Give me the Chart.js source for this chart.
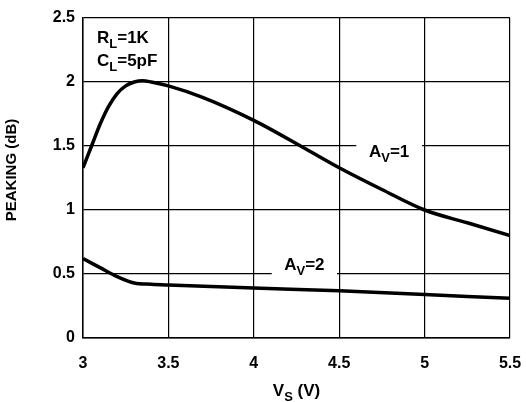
<!DOCTYPE html>
<html>
<head>
<meta charset="utf-8">
<script src="https://cdn.jsdelivr.net/npm/chart.js@4/dist/chart.umd.min.js"></script>
<style>
  body { margin: 0; background: #fff; }
  canvas { display: block; }
</style>
</head>
<body>
<canvas id="chart-peaking" width="526" height="402"></canvas>
<script>
// data
const vsAv1 = [3.0, 3.05, 3.1, 3.15, 3.2, 3.25, 3.3, 3.35, 3.4, 3.5, 3.7, 4.0, 4.3, 4.5, 4.75, 5.0, 5.25, 5.5];
const peakAv1 = [1.33, 1.50, 1.67, 1.81, 1.91, 1.97, 2.0, 2.01, 2.0, 1.97, 1.88, 1.70, 1.48, 1.33, 1.16, 1.0, 0.90, 0.80];
const vsAv2 = [3.0, 3.1, 3.2, 3.3, 3.4, 3.5, 4.0, 4.5, 5.0, 5.5];
const peakAv2 = [0.62, 0.55, 0.48, 0.43, 0.42, 0.414, 0.39, 0.37, 0.34, 0.31];
const xTicks = [3, 3.5, 4, 4.5, 5, 5.5];
const yTicks = [0, 0.5, 1, 1.5, 2, 2.5];
const xTickLabels = ['3', '3.5', '4', '4.5', '5', '5.5'];
const yTickLabels = ['0', '0.5', '1', '1.5', '2', '2.5'];

const FONT = '"Liberation Sans", Arial, sans-serif';

function toPoints(xs, ys) {
    return xs.map((x, i) => ({ x: x, y: ys[i] }));
}

// draw text made of [text, isSub] parts
function drawParts(ctx, parts, x, y, size, align) {
    const subSize = Math.round(size * 0.78);
    let total = 0;
    parts.forEach(p => {
        ctx.font = 'bold ' + (p[1] ? subSize : size) + 'px ' + FONT;
        total += ctx.measureText(p[0]).width;
    });
    let cx = align === 'center' ? x - total / 2 : x;
    ctx.textAlign = 'left';
    ctx.textBaseline = 'alphabetic';
    parts.forEach(p => {
        ctx.font = 'bold ' + (p[1] ? subSize : size) + 'px ' + FONT;
        ctx.fillText(p[0], cx, y + (p[1] ? 5 : 0));
        cx += ctx.measureText(p[0]).width;
    });
}

const labelsPlugin = {
    id: 'labels',
    beforeDatasetsDraw(chart) {
        const ctx = chart.ctx;
        const xs = chart.scales.x, ys = chart.scales.y;
        const area = chart.chartArea;
        ctx.save();
        ctx.fillStyle = '#000';
        // curve labels with white boxes over the grid
        const boxes = [
            { parts: [['A', false], ['V', true], ['=1', false]], x0: 4.60, x1: 4.985, y: 1.45 },
            { parts: [['A', false], ['V', true], ['=2', false]], x0: 4.105, x1: 4.487, y: 0.57 }
        ];
        boxes.forEach(b => {
            const px0 = xs.getPixelForValue(b.x0), px1 = xs.getPixelForValue(b.x1);
            const py = ys.getPixelForValue(b.y);
            ctx.fillStyle = '#fff';
            ctx.fillRect(px0, py - 13, px1 - px0, 24);
            ctx.fillStyle = '#000';
            drawParts(ctx, b.parts, (px0 + px1) / 2, py + 5, 17, 'center');
        });
        // conditions
        drawParts(ctx, [['R', false], ['L', true], ['=1K', false]], area.left + 14, area.top + 25, 17, 'left');
        drawParts(ctx, [['C', false], ['L', true], ['=5pF', false]], area.left + 14, area.top + 48, 17, 'left');
        // axis titles
        drawParts(ctx, [['V', false], ['S', true], [' (V)', false]], (area.left + area.right) / 2, 396, 17, 'center');
        ctx.translate(16, 170);
        ctx.rotate(-Math.PI / 2);
        drawParts(ctx, [['PEAKING (dB)', false]], 0, 0, 15, 'center');
        ctx.restore();
    }
};

let cpk = document.getElementById("chart-peaking").getContext("2d");
let chart_peaking = new Chart(cpk, {
    type: 'line',
    data: {
        datasets: [{
            label: 'AV=1',
            data: toPoints(vsAv1, peakAv1),
            borderColor: '#000',
            borderWidth: 3.5,
            pointRadius: 0,
            cubicInterpolationMode: 'monotone',
            fill: false
        }, {
            label: 'AV=2',
            data: toPoints(vsAv2, peakAv2),
            borderColor: '#000',
            borderWidth: 3.5,
            pointRadius: 0,
            cubicInterpolationMode: 'monotone',
            fill: false
        }]
    },
    options: {
        responsive: false,
        animation: false,
        layout: {
            padding: { left: 0, right: 16, top: 18, bottom: 0 }
        },
        scales: {
            x: {
                type: 'linear',
                min: 3,
                max: 5.5,
                afterBuildTicks: function (scale) {
                    scale.ticks = xTicks.map(v => ({ value: v }));
                },
                afterFit: function (scale) {
                    scale.height = 64;
                    // keep the plot edges where the layout padding puts them
                    scale.paddingLeft = 0;
                    scale.paddingRight = 0;
                },
                ticks: {
                    padding: 16,
                    color: '#000',
                    font: { family: FONT, size: 16, weight: 'bold' },
                    maxRotation: 0,
                    callback: function (value) {
                        return xTickLabels[xTicks.indexOf(value)];
                    }
                },
                grid: { color: '#000', lineWidth: 1.2, drawTicks: false },
                border: { color: '#000', width: 1.5 }
            },
            y: {
                min: 0,
                max: 2.5,
                afterBuildTicks: function (scale) {
                    scale.ticks = yTicks.map(v => ({ value: v }));
                },
                afterFit: function (scale) {
                    scale.width = 83;
                    scale.paddingTop = 0;
                    scale.paddingBottom = 0;
                },
                ticks: {
                    padding: 8,
                    color: '#000',
                    font: { family: FONT, size: 16, weight: 'bold' },
                    callback: function (value) {
                        return yTickLabels[yTicks.indexOf(value)];
                    }
                },
                grid: { color: '#000', lineWidth: 1.2, drawTicks: false },
                border: { color: '#000', width: 1.5 }
            }
        },
        plugins: {
            legend: { display: false },
            tooltip: { enabled: false }
        }
    },
    plugins: [labelsPlugin]
});
</script>
</body>
</html>
